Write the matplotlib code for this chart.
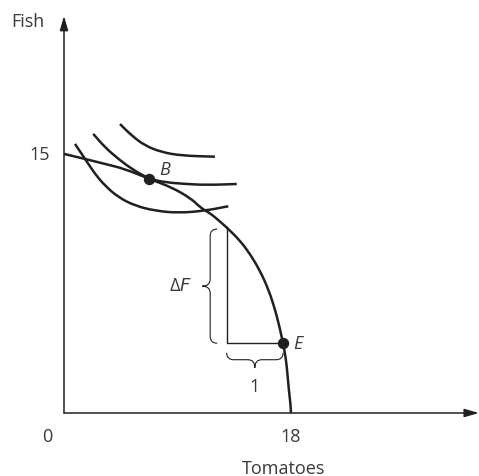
import matplotlib
matplotlib.use('Agg')
import matplotlib.pyplot as plt
from matplotlib.path import Path
from matplotlib.patches import PathPatch
import numpy as np

plt.rcParams['font.family'] = ['Open Sans', 'DejaVu Sans']

# production possibilities frontier (tomatoes, fish)
ppf_x = [0, 1.67, 3.25, 4.84, 6.76, 8.54, 10.13, 10.79, 11.44, 11.84, 12.90, 13.96,
         14.75, 15.54, 16.20, 16.73, 17.13, 17.37, 17.60, 17.72, 17.84, 17.96, 18]
ppf_y = [15, 14.71, 14.42, 14.13, 13.55, 13.07, 12.39, 11.91, 11.62, 11.42, 10.75, 9.98,
         9.21, 8.24, 7.18, 6.02, 4.86, 4.04, 3.13, 2.26, 1.27, 0.52, 0]

# indifference curves, low -> high
ic1_x = [0.87, 1.67, 2.46, 3.25, 4.31, 5.63, 7.22, 9.06, 11.18, 13.03]
ic1_y = [15.58, 14.71, 13.84, 13.16, 12.49, 12.0, 11.71, 11.58, 11.71, 11.97]
ic2_x = [2.32, 3.25, 4.31, 5.37, 6.76, 8.01, 9.60, 11.44, 13.70]
ic2_y = [16.16, 15.38, 14.71, 14.13, 13.55, 13.36, 13.26, 13.20, 13.26]
ic3_x = [4.44, 5.37, 6.42, 7.75, 9.33, 11.97]
ic3_y = [16.73, 16.06, 15.48, 15.10, 14.90, 14.84]

point_B = (6.76, 13.55)
point_E = (17.37, 4.04)
tri_top = (12.90, 10.75)   # point on the ppf above the step

x_ticks = [0, 18]
y_ticks = [15]
x_top = 32.9
y_top = 22.99

ink = '#231f20'
txt = '#3a3a3a'

fig = plt.figure(figsize=(4.79, 4.77), dpi=100)
ax = fig.add_axes([0, 0, 1, 1])
xlim = (-5.075, 32.91)
ylim = (-3.648, 23.97)
ax.set_xlim(xlim)
ax.set_ylim(ylim)
ax.axis('off')
sx = 479 / (xlim[1] - xlim[0])
sy = 477 / (ylim[1] - ylim[0])

# axes with arrows
arr = dict(arrowstyle='-|>,head_length=0.86,head_width=0.25', lw=1.1, color=ink,
           shrinkA=0, shrinkB=0, mutation_scale=10)
ax.annotate('', xy=(0, y_top), xytext=(0, 0), arrowprops=arr)
ax.annotate('', xy=(x_top, 0), xytext=(0, 0), arrowprops=arr)

def smooth(xs, ys, lw=1.8):
    # quadratic path through the read points (points act as control points)
    pts = list(zip(xs, ys))
    verts = [pts[0]]
    codes = [Path.MOVETO]
    mid = lambda p, q: ((p[0] + q[0]) / 2, (p[1] + q[1]) / 2)
    verts.append(mid(pts[0], pts[1]))
    codes.append(Path.LINETO)
    for i in range(1, len(pts) - 1):
        verts += [pts[i], mid(pts[i], pts[i + 1])]
        codes += [Path.CURVE3, Path.CURVE3]
    verts.append(pts[-1])
    codes.append(Path.LINETO)
    ax.add_patch(PathPatch(Path(verts, codes), fill=False, lw=lw, color=ink, capstyle='butt'))

smooth(ppf_x, ppf_y)
for xs, ys in [(ic1_x, ic1_y), (ic2_x, ic2_y), (ic3_x, ic3_y)]:
    smooth(xs, ys)

# step: vertical drop then across to E
ax.plot([tri_top[0], tri_top[0], point_E[0]], [tri_top[1], point_E[1], point_E[1]],
        color=ink, lw=1.0)

def brace(p0, p1, normal, gap=9.5, depth=7, tip=15, r=7):
    # curly brace beside segment p0-p1, offsets in pixels
    a = np.array([p0[0] * sx, p0[1] * sy])
    b = np.array([p1[0] * sx, p1[1] * sy])
    t = (b - a) / np.linalg.norm(b - a)
    n = np.array(normal, float)
    m = (a + b) / 2
    s = gap + depth
    pts = [a + n * gap, a + n * s, a + n * s + t * r,
           m + n * s - t * r, m + n * s, m + n * (gap + tip),
           m + n * s, m + n * s + t * r,
           b + n * s - t * r, b + n * s, b + n * gap]
    verts = [(p[0] / sx, p[1] / sy) for p in pts]
    codes = [Path.MOVETO, Path.CURVE3, Path.CURVE3, Path.LINETO, Path.CURVE3, Path.CURVE3,
             Path.CURVE3, Path.CURVE3, Path.LINETO, Path.CURVE3, Path.CURVE3]
    ax.add_patch(PathPatch(Path(verts, codes), fill=False, lw=0.8, color=ink))

brace((tri_top[0], point_E[1]), (tri_top[0], tri_top[1] - 0.1), (-1, 0))
brace((tri_top[0], point_E[1]), point_E, (0, -1))

ax.plot(*point_B, 'o', color=ink, ms=7.2)
ax.plot(*point_E, 'o', color=ink, ms=7.2)

fs = 13
ax.text(point_B[0] + 0.8, point_B[1] + 0.6, 'B', style='italic', fontsize=fs, color=txt,
        ha='left', va='center')
ax.text(point_E[0] + 0.8, point_E[1], 'E', style='italic', fontsize=fs, color=txt,
        ha='left', va='center')
ax.text(10.13, (tri_top[1] + point_E[1]) / 2, '\u0394$\\mathit{F}$', fontsize=fs, color=txt,
        ha='right', va='center')
ax.text((tri_top[0] + point_E[0]) / 2, 1.56, '1', fontsize=fs, color=txt,
        ha='center', va='center')

for v in x_ticks:
    ax.text(v if v else -1.35, -1.33, str(v), fontsize=fs, color=txt, ha='center', va='center')
for v in y_ticks:
    ax.text(-1.9, v, str(v), fontsize=fs, color=txt, ha='center', va='center')
ax.text(-2.83, 22.72, 'Fish', fontsize=fs, color=txt, ha='center', va='center')
ax.text(17.41, -3.18, 'Tomatoes', fontsize=fs, color=txt, ha='center', va='center')

fig.savefig('out.png', dpi=100)
